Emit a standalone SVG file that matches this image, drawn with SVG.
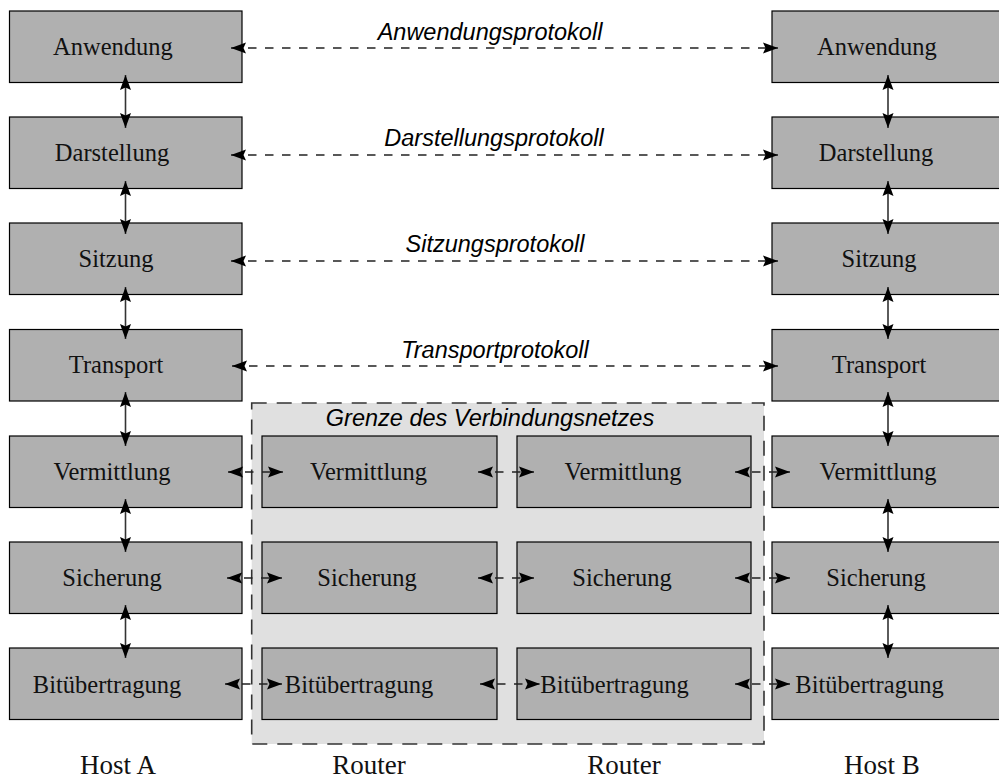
<svg xmlns="http://www.w3.org/2000/svg" width="999" height="780" viewBox="0 0 999 780">
<defs>
<marker id="ah" markerUnits="userSpaceOnUse" markerWidth="18" markerHeight="14" refX="15" refY="6" orient="auto-start-reverse">
<path d="M0,0.5 L15,6 L0,11.5 L2.5,6 Z" fill="#000"/>
</marker>
<style>
.box{fill:#b0b0b0;stroke:#000;stroke-width:1.2}
.lt{font-family:"Liberation Serif","Times New Roman",serif;font-size:24.5px;fill:#111;text-anchor:middle}
.pl{font-family:"Liberation Sans",Arial,sans-serif;font-style:italic;font-size:23.5px;fill:#000;text-anchor:middle}
.hl{font-family:"Liberation Serif","Times New Roman",serif;font-size:27px;fill:#111;text-anchor:middle}
.v{stroke:#333;stroke-width:1.6;fill:none;marker-start:url(#ah);marker-end:url(#ah)}
.h{stroke:#222;stroke-width:1.3;fill:none;stroke-dasharray:8.5 8.5;marker-start:url(#ah);marker-end:url(#ah)}
</style>
</defs>
<rect width="999" height="780" fill="#fff"/>
<g id="netz">
<rect x="251.7" y="403" width="512.3" height="341" fill="#e0e0e0" stroke="#333" stroke-width="1.6" stroke-dasharray="15 10"/>
<text class="pl" x="490" y="426">Grenze des Verbindungsnetzes</text>
</g>
<g id="hostA">
<g id="a1"><rect class="box" x="9.5" y="11" width="232.5" height="71.5"/><text class="lt" x="113" y="55">Anwendung</text></g>
<g id="a2"><rect class="box" x="9.5" y="117" width="232.5" height="71.5"/><text class="lt" x="112" y="161">Darstellung</text></g>
<g id="a3"><rect class="box" x="9.5" y="223" width="232.5" height="71.5"/><text class="lt" x="116" y="267">Sitzung</text></g>
<g id="a4"><rect class="box" x="9.5" y="329.5" width="232.5" height="71.5"/><text class="lt" x="116" y="373">Transport</text></g>
<g id="a5"><rect class="box" x="9.5" y="436" width="232.5" height="71.5"/><text class="lt" x="112" y="480">Vermittlung</text></g>
<g id="a6"><rect class="box" x="9.5" y="542" width="232.5" height="71.5"/><text class="lt" x="112" y="586">Sicherung</text></g>
<g id="a7"><rect class="box" x="9.5" y="648" width="232.5" height="71.5"/><text class="lt" x="107" y="693">Bitübertragung</text></g>
<text class="hl" x="118" y="774">Host A</text>
</g>
<g id="router1">
<g id="r1a"><rect class="box" x="262" y="436" width="235" height="71.5"/><text class="lt" x="368.5" y="480">Vermittlung</text></g>
<g id="r1b"><rect class="box" x="262" y="542" width="235" height="71.5"/><text class="lt" x="367" y="586">Sicherung</text></g>
<g id="r1c"><rect class="box" x="262" y="648" width="235" height="71.5"/><text class="lt" x="359" y="693">Bitübertragung</text></g>
<text class="hl" x="369" y="774">Router</text>
</g>
<g id="router2">
<g id="r2a"><rect class="box" x="517" y="436" width="234" height="71.5"/><text class="lt" x="623" y="480">Vermittlung</text></g>
<g id="r2b"><rect class="box" x="517" y="542" width="234" height="71.5"/><text class="lt" x="622" y="586">Sicherung</text></g>
<g id="r2c"><rect class="box" x="517" y="648" width="234" height="71.5"/><text class="lt" x="614.5" y="693">Bitübertragung</text></g>
<text class="hl" x="624" y="774">Router</text>
</g>
<g id="hostB">
<g id="b1"><rect class="box" x="772" y="11" width="233" height="71.5"/><text class="lt" x="877" y="55">Anwendung</text></g>
<g id="b2"><rect class="box" x="772" y="117" width="233" height="71.5"/><text class="lt" x="876" y="161">Darstellung</text></g>
<g id="b3"><rect class="box" x="772" y="223" width="233" height="71.5"/><text class="lt" x="879" y="267">Sitzung</text></g>
<g id="b4"><rect class="box" x="772" y="329.5" width="233" height="71.5"/><text class="lt" x="879" y="373">Transport</text></g>
<g id="b5"><rect class="box" x="772" y="436" width="233" height="71.5"/><text class="lt" x="878" y="480">Vermittlung</text></g>
<g id="b6"><rect class="box" x="772" y="542" width="233" height="71.5"/><text class="lt" x="876" y="586">Sicherung</text></g>
<g id="b7"><rect class="box" x="772" y="648" width="233" height="71.5"/><text class="lt" x="869.5" y="693">Bitübertragung</text></g>
<text class="hl" x="882" y="774">Host B</text>
</g>
<g id="labels">
<text class="pl" x="490" y="40">Anwendungsprotokoll</text>
<text class="pl" x="494" y="146">Darstellungsprotokoll</text>
<text class="pl" x="495" y="252">Sitzungsprotokoll</text>
<text class="pl" x="495" y="358">Transportprotokoll</text>
</g>
<g id="connectors">
<line class="v" x1="125.5" y1="75" x2="125.5" y2="128"/>
<line class="v" x1="125.5" y1="181" x2="125.5" y2="234"/>
<line class="v" x1="125.5" y1="287" x2="125.5" y2="339"/>
<line class="v" x1="125.5" y1="392" x2="125.5" y2="446"/>
<line class="v" x1="125.5" y1="499" x2="125.5" y2="552"/>
<line class="v" x1="125.5" y1="605" x2="125.5" y2="658"/>
<line class="v" x1="888" y1="75" x2="888" y2="128"/>
<line class="v" x1="888" y1="181" x2="888" y2="234"/>
<line class="v" x1="888" y1="287" x2="888" y2="339"/>
<line class="v" x1="888" y1="392" x2="888" y2="446"/>
<line class="v" x1="888" y1="499" x2="888" y2="552"/>
<line class="v" x1="888" y1="605" x2="888" y2="658"/>
<line class="h" x1="231" y1="48" x2="778" y2="48"/>
<line class="h" x1="231" y1="155" x2="778" y2="155"/>
<line class="h" x1="231" y1="261" x2="778" y2="261"/>
<line class="h" x1="232" y1="366" x2="778" y2="366"/>
<line class="h" x1="228" y1="472" x2="283" y2="472"/>
<line class="h" x1="478" y1="472" x2="534" y2="472"/>
<line class="h" x1="735" y1="472" x2="790" y2="472"/>
<line class="h" x1="227" y1="578" x2="282" y2="578"/>
<line class="h" x1="478" y1="578" x2="534" y2="578"/>
<line class="h" x1="735" y1="578" x2="790" y2="578"/>
<line class="h" x1="225" y1="684" x2="282" y2="684"/>
<line class="h" x1="480" y1="684" x2="540" y2="684"/>
<line class="h" x1="735" y1="684" x2="790" y2="684"/>
</g>
</svg>
